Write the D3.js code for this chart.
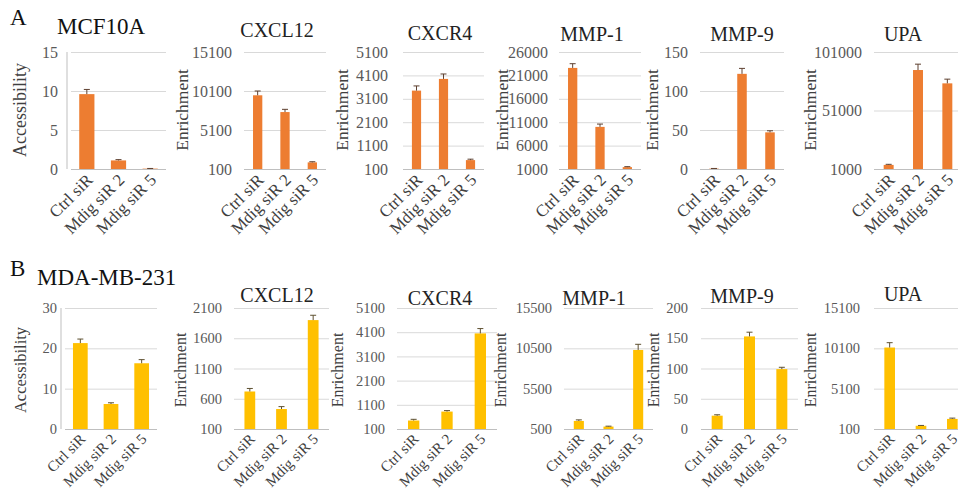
<!DOCTYPE html>
<html>
<head>
<meta charset="utf-8">
<script src="https://cdn.jsdelivr.net/npm/d3@7"></script>
<style>
  body { margin: 0; background: #fff; }
  svg { display: block; font-family: "Liberation Serif", "DejaVu Serif", serif; }
</style>
</head>
<body>
<div id="chart"></div>
<script>
// categories shared by every panel
const categories = ['Ctrl siR', 'Mdig siR 2', 'Mdig siR 5'];
const panelTitles = ['', 'CXCL12', 'CXCR4', 'MMP-1', 'MMP-9', 'UPA'];
const yLabels = ['Accessibility', 'Enrichment', 'Enrichment', 'Enrichment', 'Enrichment', 'Enrichment'];

// row A : MCF10A
const mcfValues = [
  [9.6, 1.1, 0.05],
  [9550, 7400, 950],
  [3450, 3950, 480],
  [22600, 10000, 1400],
  [0.5, 122, 47],
  [4500, 85600, 74200]
];
const mcfErrors = [
  [0.6, 0.1, 0.02],
  [550, 350, 80],
  [200, 210, 40],
  [900, 600, 100],
  [0.2, 7, 2],
  [500, 5000, 3600]
];
const mcfTicks = [
  [0, 5, 10, 15],
  [100, 5100, 10100, 15100],
  [100, 1100, 2100, 3100, 4100, 5100],
  [1000, 6000, 11000, 16000, 21000, 26000],
  [0, 50, 100, 150],
  [1000, 51000, 101000]
];

// row B : MDA-MB-231
const mdaValues = [
  [21.3, 6.2, 16.3],
  [720, 430, 1900],
  [450, 820, 4050],
  [1500, 800, 10300],
  [22, 153, 99],
  [10200, 500, 1350]
];
const mdaErrors = [
  [1.0, 0.3, 0.9],
  [50, 40, 80],
  [50, 40, 200],
  [130, 50, 700],
  [1.5, 7, 3],
  [600, 40, 100]
];
const mdaTicks = [
  [0, 10, 20, 30],
  [100, 600, 1100, 1600, 2100],
  [100, 1100, 2100, 3100, 4100, 5100],
  [500, 5500, 10500, 15500],
  [0, 50, 100, 150, 200],
  [100, 5100, 10100, 15100]
];

const W = 958, H = 490;
const svg = d3.select('#chart').append('svg')
  .attr('width', W)
  .attr('height', H)
  .attr('viewBox', `0 0 ${W} ${H}`);

// panel frames (pixels)
const rows = [
  {
    letter: 'A', cell: 'MCF10A', cellX: 57, top: 52, bottom: 169,
    letterY: 25, cellY: 34, labelY: 110,
    catSize: 17, tickSize: 16, labelSize: 17.5, accSize: 18, catDx: 7, catDy: 12,
    color: '#ED7D31', err: '#5e4030',
    values: mcfValues, errors: mcfErrors, ticks: mcfTicks,
    frames: [
      { x0: 71, x1: 166, pad: 13, lx: 20, tx: 0, ty: 0 },
      { x0: 244, x1: 326, pad: 12, lx: 182, tx: 277, ty: 37 },
      { x0: 403, x1: 484, pad: 15, lx: 342, tx: 440, ty: 40 },
      { x0: 559, x1: 641, pad: 11, lx: 502, tx: 592, ty: 41 },
      { x0: 700, x1: 784, pad: 12, lx: 652, tx: 742, ty: 41 },
      { x0: 874, x1: 962, pad: 12, lx: 810, tx: 903, ty: 41 }
    ]
  },
  {
    letter: 'B', cell: 'MDA-MB-231', cellX: 37, top: 308, bottom: 429,
    letterY: 276, cellY: 285, labelY: 370,
    catSize: 15, tickSize: 14.5, labelSize: 16, accSize: 16.5, catDx: 6, catDy: 11,
    color: '#FFC000', err: '#5e5030',
    values: mdaValues, errors: mdaErrors, ticks: mdaTicks,
    frames: [
      { x0: 65, x1: 157, pad: 8, lx: 20, tx: 0, ty: 0 },
      { x0: 234, x1: 329, pad: 12, lx: 180, tx: 277, ty: 302 },
      { x0: 397, x1: 497, pad: 12, lx: 337, tx: 440, ty: 305 },
      { x0: 564, x1: 653, pad: 12, lx: 500, tx: 594, ty: 305 },
      { x0: 701, x1: 798, pad: 13, lx: 653, tx: 742, ty: 303 },
      { x0: 874, x1: 968, pad: 14, lx: 810, tx: 903, ty: 301 }
    ]
  }
];

rows.forEach((row) => {
  svg.append('text')
    .attr('x', 10).attr('y', row.letterY)
    .attr('font-size', 23).attr('fill', '#111')
    .text(row.letter);
  svg.append('text')
    .attr('x', row.cellX).attr('y', row.cellY)
    .attr('font-size', 23).attr('fill', '#111')
    .text(row.cell);

  row.frames.forEach((f, i) => {
    const isAccess = i === 0;
    const ticks = row.ticks[i];
    const y = d3.scaleLinear()
      .domain([ticks[0], ticks[ticks.length - 1]])
      .range([row.bottom, row.top]);
    const x = d3.scaleBand()
      .domain(categories)
      .range([f.x0, f.x1])
      .paddingInner(isAccess ? 0.52 : 0.66)
      .paddingOuter(isAccess ? 0.26 : 0.33);

    const g = svg.append('g');

    // gridlines + tick labels
    const axis = g.append('g')
      .attr('transform', `translate(${f.x0},0)`)
      .call(d3.axisLeft(y).tickValues(ticks).tickSize(-(f.x1 - f.x0)).tickPadding(f.pad).tickFormat(d3.format('d')));
    axis.select('.domain').remove();
    axis.selectAll('.tick line')
      .attr('stroke', (d) => d === ticks[0] ? '#bfbfbf' : '#d9d9d9');
    axis.selectAll('.tick text')
      .attr('font-size', row.tickSize)
      .attr('font-family', '"Liberation Serif", serif')
      .attr('fill', '#595959');

    if (isAccess) {
      g.append('line')
        .attr('x1', f.x0 - 4).attr('x2', f.x0 - 4)
        .attr('y1', row.top).attr('y2', row.bottom)
        .attr('stroke', '#bfbfbf');
    }

    const data = categories.map((c, k) => ({ c, v: row.values[i][k], e: row.errors[i][k] }));

    g.selectAll('rect.bar')
      .data(data)
      .join('rect')
      .attr('class', 'bar')
      .attr('x', (d) => x(d.c))
      .attr('width', x.bandwidth())
      .attr('y', (d) => y(Math.max(d.v, ticks[0])))
      .attr('height', (d) => row.bottom - y(Math.max(d.v, ticks[0])))
      .attr('fill', row.color);

    // plus-only error bars
    const cap = 3;
    data.forEach((d) => {
      const cx = x(d.c) + x.bandwidth() / 2;
      const yv = y(Math.max(d.v, ticks[0]));
      const ye = y(d.v + d.e);
      g.append('line')
        .attr('x1', cx).attr('x2', cx).attr('y1', yv).attr('y2', ye)
        .attr('stroke', row.err).attr('stroke-width', 1);
      g.append('line')
        .attr('x1', cx - cap).attr('x2', cx + cap).attr('y1', ye).attr('y2', ye)
        .attr('stroke', row.err).attr('stroke-width', 1);
    });

    // rotated category labels
    g.selectAll('text.cat')
      .data(categories)
      .join('text')
      .attr('class', 'cat')
      .attr('text-anchor', 'end')
      .attr('font-size', row.catSize)
      .attr('fill', '#404040')
      .attr('transform', (c) => `translate(${x(c) + x.bandwidth() / 2 + row.catDx},${row.bottom + row.catDy}) rotate(-45)`)
      .text((c) => c);

    // y axis title
    g.append('text')
      .attr('text-anchor', 'middle')
      .attr('font-size', isAccess ? row.accSize : row.labelSize)
      .attr('fill', '#404040')
      .attr('transform', `translate(${f.lx + 6},${row.labelY}) rotate(-90)`)
      .text(yLabels[i]);

    if (panelTitles[i]) {
      g.append('text')
        .attr('x', f.tx).attr('y', f.ty)
        .attr('text-anchor', 'middle')
        .attr('font-size', 20)
        .attr('fill', '#222')
        .text(panelTitles[i]);
    }
  });
});
</script>
</body>
</html>
